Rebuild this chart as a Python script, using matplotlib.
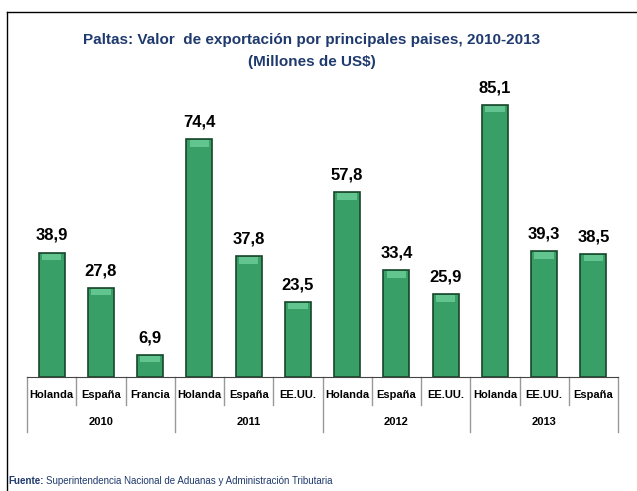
import matplotlib
matplotlib.use("Agg")
import matplotlib.pyplot as plt
from matplotlib.transforms import blended_transform_factory

plt.rcParams["font.family"] = ["Liberation Sans", "DejaVu Sans"]

# data
countries = ["Holanda", "España", "Francia",
             "Holanda", "España", "EE.UU.",
             "Holanda", "España", "EE.UU.",
             "Holanda", "EE.UU.", "España"]
years = ["2010", "2011", "2012", "2013"]
values = [38.9, 27.8, 6.9, 74.4, 37.8, 23.5, 57.8, 33.4, 25.9, 85.1, 39.3, 38.5]
labels = ["38,9", "27,8", "6,9", "74,4", "37,8", "23,5",
          "57,8", "33,4", "25,9", "85,1", "39,3", "38,5"]

navy = "#1f3a6e"
fig = plt.figure(figsize=(6.37, 4.91), dpi=100)
ax = fig.add_axes([27 / 637, 114 / 491, 591 / 637, 320 / 491])

x = list(range(len(values)))
ax.bar(x, values, width=0.53, color="#38a067", edgecolor="#17452a", linewidth=1.2, zorder=2)
# lighter bevel at the top of each bar
bevel = [min(2.0, v * 0.3) for v in values]
ax.bar(x, bevel, bottom=[v - b - 0.3 for v, b in zip(values, bevel)], width=0.40,
       color="#62c48f", linewidth=0, zorder=3)

for xi, v, lab in zip(x, values, labels):
    ax.annotate(lab, (xi, v), xytext=(0, 7), textcoords="offset points",
                ha="center", va="bottom", fontsize=12, fontweight="bold")

ax.set_xlim(-0.5, len(values) - 0.5)
ax.set_ylim(0, 100.1)
for s in ["top", "right", "left"]:
    ax.spines[s].set_visible(False)
ax.spines["bottom"].set_color("#444444")
ax.set_xticks([])
ax.set_yticks([])

tr = blended_transform_factory(ax.transData, ax.transAxes)
for i, c in enumerate(countries):
    ax.text(i, -0.056, c, transform=tr, ha="center", va="center",
            fontsize=8, fontweight="bold")
for k in range(len(values) + 1):
    b = k - 0.5
    low = -0.172 if k % 3 == 0 else -0.0875
    ax.plot([b, b], [0, low], transform=tr, color="#999999", lw=1, clip_on=False)
for j, y in enumerate(years):
    ax.text(3 * j + 1, -0.14, y, transform=tr, ha="center", va="center",
            fontsize=8, fontweight="bold")

fig.text(312 / 637, 1 - 40 / 491, "Paltas: Valor  de exportación por principales paises, 2010-2013",
         ha="center", va="center", fontsize=11, fontweight="bold", color=navy)
fig.text(312 / 637, 1 - 62 / 491, "(Millones de US$)",
         ha="center", va="center", fontsize=11, fontweight="bold", color=navy)

src = fig.text(8 / 637, 1 - 481 / 491, "Fuente:", ha="left", va="center",
               fontsize=7, fontweight="bold", color=navy)
fig.text(0, 0, "")
plt.annotate("Superintendencia Nacional de Aduanas y Administración Tributaria",
             xy=(1, 0.5), xycoords=src, xytext=(2, 0), textcoords="offset points",
             ha="left", va="center", fontsize=7, color=navy)

# outer frame (top and left)
fig.add_artist(plt.Line2D([7 / 637, 1], [1 - 12 / 491, 1 - 12 / 491],
                          transform=fig.transFigure, color="black", lw=1))
fig.add_artist(plt.Line2D([7 / 637, 7 / 637], [1 - 12 / 491, 0],
                          transform=fig.transFigure, color="black", lw=1))

fig.savefig("out.png", dpi=100)
